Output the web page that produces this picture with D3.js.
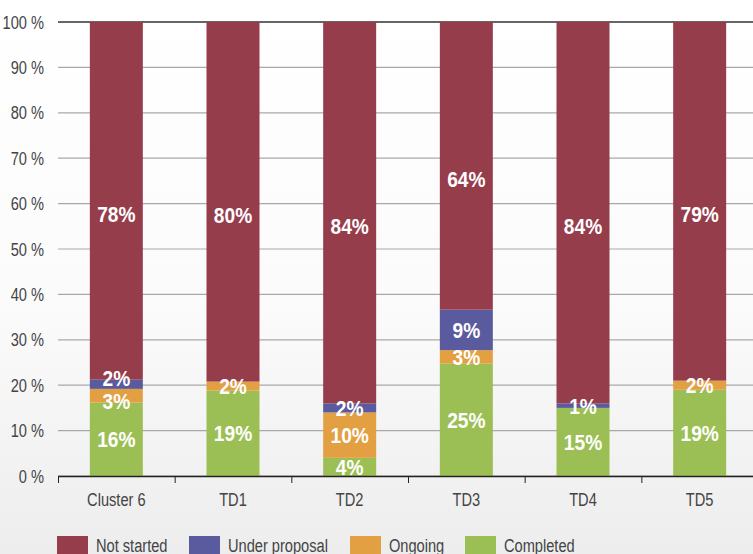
<!DOCTYPE html>
<html><head><meta charset="utf-8">
<script src="https://cdn.jsdelivr.net/npm/d3@7"></script>
<style>
html,body{margin:0;padding:0;overflow:hidden;}
svg{display:block;}
</style></head>
<body>
<svg id="c" width="753" height="554"></svg>
<script>
const categories = ["Cluster 6", "TD1", "TD2", "TD3", "TD4", "TD5"];
const seriesNames = ["Completed", "Ongoing", "Under proposal", "Not started"];
const completed     = [16, 19, 4, 25, 15, 19];
const ongoing       = [3, 2, 10, 3, 0, 2];
const underProposal = [2, 0, 2, 9, 1, 0];
const notStarted    = [78, 80, 84, 64, 84, 79];
const colors = {"Not started": "#963d4c", "Under proposal": "#5a5a9e", "Ongoing": "#e2a042", "Completed": "#9bbf55"};
const legendOrder = ["Not started", "Under proposal", "Ongoing", "Completed"];
const yTicks = [0, 0.1, 0.2, 0.3, 0.4, 0.5, 0.6, 0.7, 0.8, 0.9, 1.0];

const rows = categories.map((c, i) => ({
  cat: c,
  "Completed": completed[i],
  "Ongoing": ongoing[i],
  "Under proposal": underProposal[i],
  "Not started": notStarted[i]
}));

const svg = d3.select("#c");
const W = 753, H = 554;
const SX = 0.77;  // condensing for axis/legend text (narrow face emulation)
const SXL = 0.87; // condensing for bar labels
const defs = svg.append("defs");
const grad = defs.append("linearGradient").attr("id", "bg").attr("x1", 0).attr("y1", 0).attr("x2", 0).attr("y2", 1);
grad.append("stop").attr("offset", "0%").attr("stop-color", "#ffffff");
grad.append("stop").attr("offset", "55%").attr("stop-color", "#fbfbfb");
grad.append("stop").attr("offset", "100%").attr("stop-color", "#ededed");
svg.append("rect").attr("width", W).attr("height", H).attr("fill", "url(#bg)");

const x = d3.scaleBand().domain(categories).range([58, 758]).paddingInner(0).paddingOuter(0);
const y = d3.scaleLinear().domain([0, 1]).range([476, 22]);
const barW = 53;

const stack = d3.stack().keys(seriesNames).offset(d3.stackOffsetExpand);
const layers = stack(rows);

const axisFont = "'Liberation Sans Narrow','Arial Narrow','Liberation Sans',Arial,sans-serif";
const axisSize = 19;

// grid lines
svg.append("g").selectAll("line").data(yTicks).join("line")
  .attr("x1", 58).attr("x2", W)
  .attr("y1", d => y(d)).attr("y2", d => y(d))
  .attr("stroke", d => d === 1 ? "#333" : "#a9a9a9")
  .attr("stroke-width", d => d === 1 ? 1.5 : 1.2);

// y labels
const yAxis = d3.axisLeft(y).tickValues(yTicks).tickSize(0)
  .tickFormat(d => Math.round(d * 100) + " %");
const ya = svg.append("g").attr("transform", "translate(58,0)").call(yAxis);
ya.select(".domain").remove();
ya.selectAll("text").attr("font-family", axisFont).attr("font-size", axisSize).attr("fill", "#444")
  .attr("x", -14 / SX).attr("transform", `scale(${SX},1)`);

// bars
const bars = svg.append("g");
layers.forEach(layer => {
  bars.append("g").attr("fill", colors[layer.key])
    .selectAll("rect").data(layer).join("rect")
    .attr("x", d => x(d.data.cat) + (x.bandwidth() - barW) / 2)
    .attr("width", barW)
    .attr("y", d => y(d[1]))
    .attr("height", d => y(d[0]) - y(d[1]));
});

// labels with simple vertical collision avoidance per bar
const labelsByCat = {};
layers.forEach(layer => {
  layer.forEach(d => {
    const v = d.data[layer.key];
    if (!v) return;
    const big = layer.key === "Not started";
    const cy = (y(d[0]) + y(d[1])) / 2 + (big ? 13 : 0);
    (labelsByCat[d.data.cat] = labelsByCat[d.data.cat] || []).push({cat: d.data.cat, v, cy});
  });
});
const minSep = 23;
Object.values(labelsByCat).forEach(list => {
  for (let iter = 0; iter < 5; iter++) {
    for (let i = 0; i < list.length - 1; i++) {
      const a = list[i], b = list[i + 1];
      const gap = a.cy - b.cy;
      if (gap < minSep) {
        const push = (minSep - gap) / 2;
        a.cy += push; b.cy -= push;
      }
    }
  }
});
const lab = svg.append("g").attr("font-family", "'Liberation Sans',Arial,sans-serif")
  .attr("font-weight", "bold").attr("font-size", 22).attr("fill", "#fff").attr("text-anchor", "middle");
Object.values(labelsByCat).flat().forEach(l => {
  lab.append("text")
    .attr("transform", `translate(${x(l.cat) + x.bandwidth() / 2},${l.cy}) scale(${SXL},1)`)
    .attr("dy", "0.36em")
    .text(l.v + "%");
});

// x axis
const xAxis = d3.axisBottom(x).tickSize(0).tickPadding(17);
const xa = svg.append("g").attr("transform", "translate(0,476)").call(xAxis);
xa.select(".domain").remove();
xa.selectAll("text").attr("font-family", axisFont).attr("font-size", axisSize).attr("fill", "#444")
  .attr("transform", `scale(${SX},1)`);
svg.append("line").attr("x1", 58).attr("x2", W).attr("y1", 476.5).attr("y2", 476.5).attr("stroke", "#222").attr("stroke-width", 1.5);
const bounds = categories.map(c => x(c)).concat([x.range()[1]]);
svg.append("g").selectAll("line").data(bounds).join("line")
  .attr("x1", d => d + 0.5).attr("x2", d => d + 0.5).attr("y1", 476).attr("y2", 483)
  .attr("stroke", "#222").attr("stroke-width", 1);

// legend
const legX = [57, 189, 350, 465];
const leg = svg.append("g");
legendOrder.forEach((k, i) => {
  const g = leg.append("g").attr("transform", `translate(${legX[i]},536)`);
  g.append("rect").attr("width", 31).attr("height", 20).attr("fill", colors[k]);
  g.append("text").attr("transform", `translate(39,15.5) scale(${SX},1)`)
    .attr("font-family", axisFont).attr("font-size", axisSize)
    .attr("fill", "#444").text(k);
});
</script>
</body></html>
